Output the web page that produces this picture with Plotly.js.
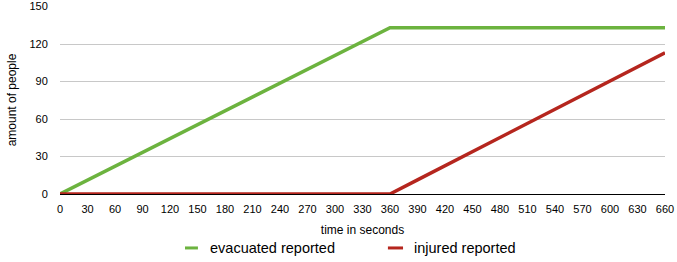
<!DOCTYPE html>
<html><head><meta charset="utf-8">
<script src="https://cdn.plot.ly/plotly-3.0.1.min.js"></script>
<style>html,body{margin:0;padding:0;background:#fff}#chart{width:677px;height:262px}</style>
</head><body><div id="chart"></div>
<script>
var timeSeconds = [0,30,60,90,120,150,180,210,240,270,300,330,360,390,420,450,480,510,540,570,600,630,660];
var evacuatedReported = [0,11.1,22.2,33.3,44.3,55.4,66.5,77.6,88.7,99.8,110.8,121.9,133,133,133,133,133,133,133,133,133,133,133];
var injuredReported = [0,0,0,0,0,0,0,0,0,0,0,0,0,11.3,22.6,33.9,45.2,56.5,67.8,79.1,90.4,101.7,113];
var yTicks = [0,30,60,90,120,150];
var seriesNames = ["evacuated reported","injured reported"];
var seriesColors = ["#6cb33f","#b5261e"];

var traces = [
  {x: timeSeconds, y: evacuatedReported, name: seriesNames[0], mode: "lines", line: {color: seriesColors[0], width: 3.5}},
  {x: timeSeconds, y: injuredReported, name: seriesNames[1], mode: "lines", line: {color: seriesColors[1], width: 3.5}}
];

// custom legend (short swatches like the reference)
var legY = -0.287;
var legendItems = [{x0: 0.2066, x1: 0.228, tx: 0.2446}, {x0: 0.542, x1: 0.567, tx: 0.582}];
var shapes = legendItems.map(function (it, i) {
  return {type: "line", xref: "paper", yref: "paper", x0: it.x0, x1: it.x1, y0: legY, y1: legY,
          line: {color: seriesColors[i], width: 3}};
});
var annotations = legendItems.map(function (it, i) {
  return {xref: "paper", yref: "paper", x: it.tx, y: legY, xanchor: "left", yanchor: "middle",
          text: seriesNames[i], showarrow: false, font: {size: 14.5, color: "#000"}};
});

var layout = {
  width: 677, height: 262,
  margin: {l: 60, r: 12, t: 6, b: 68},
  paper_bgcolor: "#fff", plot_bgcolor: "#fff",
  font: {family: "Liberation Sans, Arial, sans-serif", size: 11, color: "#000"},
  showlegend: false,
  shapes: shapes,
  annotations: annotations,
  xaxis: {
    range: [0, 660], tickmode: "array", tickvals: timeSeconds, ticktext: timeSeconds.map(String),
    showgrid: false, zeroline: false, showline: true, linecolor: "#000", linewidth: 1,
    ticks: "outside", ticklen: 5, tickcolor: "rgba(0,0,0,0)", tickfont: {size: 11}, automargin: false,
    title: {text: "time in seconds", font: {size: 12}, standoff: 11}
  },
  yaxis: {
    range: [0, 150.4], tickmode: "array", tickvals: yTicks, ticktext: yTicks.map(String),
    showgrid: true, gridcolor: "#c8c8c8", gridwidth: 1, zeroline: false,
    ticks: "outside", ticklen: 9, tickcolor: "rgba(0,0,0,0)", tickfont: {size: 11}, automargin: false,
    title: {text: "amount of people", font: {size: 12}, standoff: 10}
  }
};
Plotly.newPlot("chart", traces, layout, {displayModeBar: false, staticPlot: true});
</script></body></html>
